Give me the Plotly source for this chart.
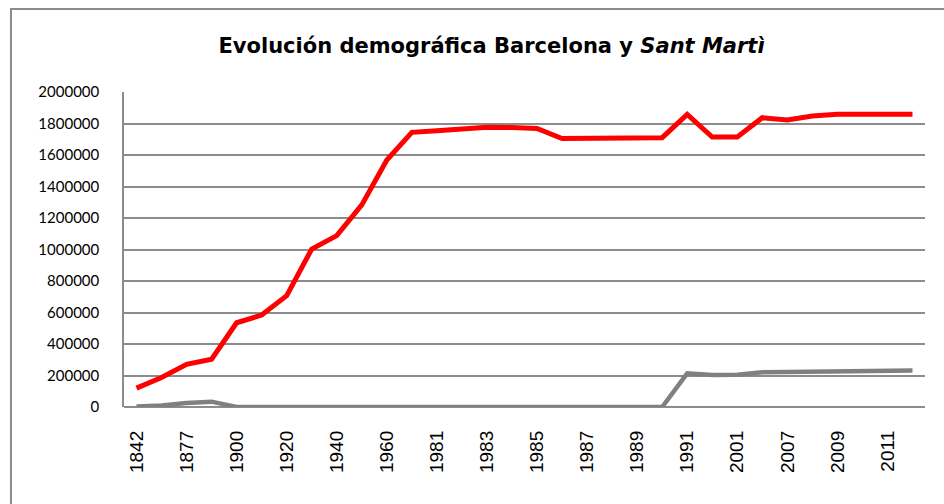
import plotly.graph_objects as go

# Census years (categorical axis) and population counts
years = ["1842", "1857", "1877", "1887", "1900", "1910", "1920", "1930",
         "1940", "1950", "1960", "1970", "1981", "1982", "1983", "1984",
         "1985", "1986", "1987", "1988", "1989", "1990", "1991", "1996",
         "2001", "2005", "2007", "2008", "2009", "2010", "2011", "2012"]

barcelona = [120000, 187000, 271000, 303000, 535000, 584000, 707000, 1003000,
             1088000, 1283000, 1568000, 1744000, 1754000, 1763000, 1776000, 1774000,
             1769000, 1704000, 1706000, 1714000, 1714000, 1710000, 1858000, 1714000,
             1714000, 1837000, 1822000, 1848000, 1858000, 1856000, 1852000, 1858000]

sant_marti = [3000, 10000, 25000, 34000, 0, 0, 0, 0,
              0, 0, 0, 0, 0, 0, 0, 0,
              0, 0, 0, 0, 0, 0, 214000, 203000,
              205000, 220000, 222000, 224000, 229000, 230000, 230000, 231000]

# Only every other year carries a label on the axis
tick_years = years[::2]

y_ticks = list(range(0, 2000001, 200000))

fig = go.Figure()
fig.add_trace(go.Scatter(x=years, y=barcelona, mode="lines", name="Barcelona",
                         line=dict(color="#ff0000", width=5)))
fig.add_trace(go.Scatter(x=years, y=sant_marti, mode="lines", name="Sant Martì",
                         line=dict(color="#808080", width=4.5)))

# Outer frame of the chart area
fig.add_shape(type="rect", xref="paper", yref="paper",
              x0=-0.1411, x1=1.04, y0=-0.35, y1=1.2635,
              line=dict(color="#8c8c8c", width=2), fillcolor="rgba(0,0,0,0)")

fig.update_layout(
    width=944, height=504,
    margin=dict(l=124, r=19, t=92, b=97),
    paper_bgcolor="white", plot_bgcolor="white",
    showlegend=False,
    title=dict(text="<b>Evolución demográfica Barcelona y <i>Sant Martì</i></b>",
               x=0.5207, xref="container", xanchor="center",
               y=0.909, yref="container", yanchor="middle",
               font=dict(family="DejaVu Sans", size=21, color="#000000")),
    xaxis=dict(type="category", range=[-0.5, len(years) - 0.5],
               tickmode="array", tickvals=tick_years, ticktext=tick_years,
               tickangle=-90, ticks="", showgrid=False,
               showline=False, zeroline=False,
               tickfont=dict(family="Liberation Sans", size=19, color="#000000"),
               ticklabelstandoff=19),
    yaxis=dict(range=[0, 2000000], tickmode="array", tickvals=y_ticks,
               ticktext=[str(v) for v in y_ticks],
               showgrid=True, gridcolor="#8c8c8c", gridwidth=1.5,
               showline=True, linecolor="#8c8c8c", linewidth=1.5,
               zeroline=True, zerolinecolor="#8c8c8c", zerolinewidth=2,
               ticks="", ticklabelstandoff=20,
               tickfont=dict(family="Lato", size=15, color="#000000")),
)

fig.write_html("out.html")
